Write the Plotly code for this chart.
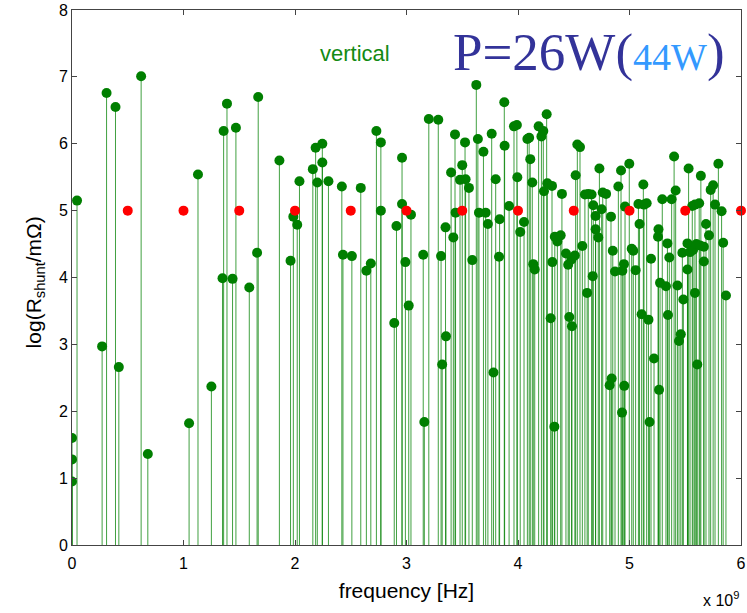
import plotly.graph_objects as go

# frequency in units of 1e9 Hz, value log(R_shunt/mOhm)
freq_ghz = [0.0, 0.0, 0.0, 0.045, 0.27, 0.31, 0.39, 0.42, 0.62, 0.68, 1.05, 1.13, 1.25, 1.35, 1.36, 1.39, 1.44, 1.47, 1.59, 1.66, 1.67,
            1.86, 1.96, 1.985, 2.02, 2.04, 2.16, 2.185, 2.20, 2.245, 2.245, 2.30, 2.42, 2.43, 2.51, 2.59, 2.64, 2.68, 2.73, 2.77, 2.77,
            2.89, 2.91, 2.96, 2.96, 2.99, 3.02, 3.04,
            3.15, 3.16, 3.20, 3.285, 3.31, 3.32, 3.354, 3.35, 3.40, 3.42, 3.435, 3.44, 3.48, 3.50, 3.525, 3.53, 3.56, 3.59, 3.626, 3.64,
            3.65, 3.69, 3.71, 3.73, 3.764, 3.78, 3.80, 3.83, 3.835, 3.877, 3.88, 3.92, 3.964, 3.99, 3.994, 4.02, 4.054, 4.084, 4.10,
            4.11, 4.128, 4.137, 4.15, 4.185, 4.21, 4.227, 4.233, 4.257, 4.263, 4.293, 4.305, 4.308, 4.326, 4.33, 4.353, 4.383, 4.394,
            4.43, 4.45, 4.46, 4.484, 4.48, 4.517, 4.51, 4.532, 4.556, 4.577, 4.60, 4.62, 4.63, 4.66, 4.67, 4.675, 4.696, 4.696, 4.72, 4.73,
            4.75, 4.76, 4.79, 4.822, 4.834, 4.84, 4.85, 4.87, 4.90, 4.924, 4.933, 4.936, 4.95, 4.953, 4.96, 4.998, 5.02, 5.034, 5.055,
            5.08, 5.09, 5.109, 5.124, 5.13, 5.154, 5.17, 5.18, 5.193, 5.22, 5.256, 5.26, 5.265, 5.274, 5.294, 5.327, 5.34, 5.345, 5.357,
            5.378, 5.40, 5.414, 5.43, 5.444, 5.46, 5.474, 5.483, 5.52, 5.52, 5.53, 5.543, 5.563, 5.57, 5.587, 5.587, 5.60, 5.608, 5.625,
            5.632, 5.64, 5.667, 5.667, 5.686, 5.713, 5.728, 5.75, 5.767, 5.797, 5.826, 5.84, 5.865]
log_r = [1.60, 1.28, 0.95, 5.15, 2.97, 6.76, 6.55, 2.66, 7.01, 1.36, 1.82, 5.54, 2.37, 3.99, 6.19, 6.60, 3.98, 6.24, 3.85, 4.37, 6.70,
         5.75, 4.25, 4.91, 4.79, 5.44, 5.62, 5.94, 5.42, 6.00, 5.72, 5.44, 5.36, 4.34, 4.32, 5.34, 4.10, 4.21, 6.19, 6.02, 5.00,
         3.32, 4.77, 5.79, 5.10, 4.23, 3.58, 4.94,
         4.34, 1.84, 6.37, 6.36, 4.32, 2.70, 3.12, 4.75, 5.57, 4.60, 6.14, 4.97, 5.46, 5.68, 6.02, 5.47, 5.34, 4.26, 6.88, 6.07,
         4.97, 5.88, 4.97, 4.80, 6.15, 2.58, 5.47, 4.31, 4.87, 6.62, 5.97, 5.07, 6.26, 6.28, 5.50, 4.68, 4.83, 6.07, 6.09,
         5.77, 5.42, 4.20, 4.12, 6.26, 6.11, 6.19, 5.29, 6.44, 5.41, 3.39, 5.37, 4.23, 1.77, 4.61, 4.54, 4.63, 5.25,
         4.36, 4.19, 3.41, 3.27, 4.27, 5.53, 4.33, 5.99, 5.95, 4.47, 5.24, 3.77, 5.25, 5.24, 4.02, 5.08, 4.92, 4.72, 4.60, 5.63,
         5.02, 5.27, 5.25, 2.39, 4.91, 2.49, 4.40, 4.09, 5.36, 5.60, 1.98, 4.10, 4.20, 2.38, 5.06, 5.70, 4.43, 4.40, 4.11,
         5.10, 4.80, 3.45, 5.39, 5.09, 5.11, 3.37, 1.84, 4.28, 2.79, 4.61, 4.72, 2.32, 3.92, 5.17, 3.87, 4.51, 3.44, 4.30,
         5.17, 5.81, 5.30, 3.88, 3.05, 3.15, 4.37, 3.67, 4.51, 4.12, 5.63, 4.38, 5.07, 4.41, 3.77, 5.09, 4.50, 2.70, 5.11,
         4.48, 5.52, 4.46, 4.24, 4.80, 4.63, 5.31, 5.38, 5.09, 5.70, 4.99, 4.52, 3.73]

ref_freq_ghz = [0.5, 1.0, 1.5, 2.0, 2.5, 3.0, 3.5, 4.0, 4.5, 5.0, 5.5, 6.0]
ref_log_r = [5, 5, 5, 5, 5, 5, 5, 5, 5, 5, 5, 5]

x_ticks = [0, 1, 2, 3, 4, 5, 6]
y_ticks = [0, 1, 2, 3, 4, 5, 6, 7, 8]

stem_x, stem_y = [], []
for f, v in zip(freq_ghz, log_r):
    stem_x += [f, f, None]
    stem_y += [0, v, None]

fig = go.Figure()
fig.add_trace(go.Scatter(x=stem_x, y=stem_y, mode="lines",
                         line=dict(color="rgba(0,128,0,0.75)", width=1),
                         hoverinfo="skip", showlegend=False))
fig.add_trace(go.Scatter(x=freq_ghz, y=log_r, mode="markers",
                         marker=dict(color="#007f00", size=10), showlegend=False))
fig.add_trace(go.Scatter(x=ref_freq_ghz, y=ref_log_r, mode="markers",
                         marker=dict(color="#ff0000", size=10), showlegend=False, cliponaxis=False))

axis_common = dict(showgrid=False, zeroline=False, showline=True, linecolor="#444444",
                   linewidth=1, mirror="ticks", ticks="inside", ticklen=5, tickcolor="#444444",
                   automargin=False,
                   tickfont=dict(family="Liberation Sans, Arial", size=16, color="black"))

fig.update_xaxes(range=[0, 6], tickvals=x_ticks, ticktext=[str(t) for t in x_ticks],
                 ticklabelstandoff=4,
                 title=dict(text="frequency [Hz]", font=dict(family="Liberation Sans, Arial", size=21, color="black"),
                            standoff=12),
                 **axis_common)
fig.update_yaxes(range=[0, 8], tickvals=y_ticks, ticktext=[str(t) for t in y_ticks],
                 **axis_common)

fig.add_annotation(x=-0.056, y=3.92, xref="paper", yref="y", text="log(R<sub>shunt</sub>/mΩ)",
                   textangle=-90, showarrow=False, xanchor="center", yanchor="middle",
                   font=dict(family="Liberation Sans, Arial", size=21, color="black"))
fig.add_annotation(x=2.54, y=7.35, xref="x", yref="y", text="vertical", showarrow=False,
                   font=dict(family="Liberation Sans, Arial", size=22, color="#138a13"))
fig.add_annotation(x=3.40, y=7.37, xref="x", yref="y", xanchor="left", yanchor="middle",
                   text="P=26W(<span style='font-size:38px;color:#3399ff'>44W</span>)",
                   showarrow=False, font=dict(family="Liberation Serif, Times New Roman", size=53, color="#333399"))
fig.add_annotation(x=1.0, y=-0.1, xref="paper", yref="paper", xanchor="right", yanchor="middle",
                   text="x 10<sup>9</sup>", showarrow=False,
                   font=dict(family="Liberation Sans, Arial", size=16, color="black"))

fig.update_layout(width=747, height=613, plot_bgcolor="white", paper_bgcolor="white",
                  margin=dict(l=72, r=6, t=10, b=68))

fig.write_html("out.html")
